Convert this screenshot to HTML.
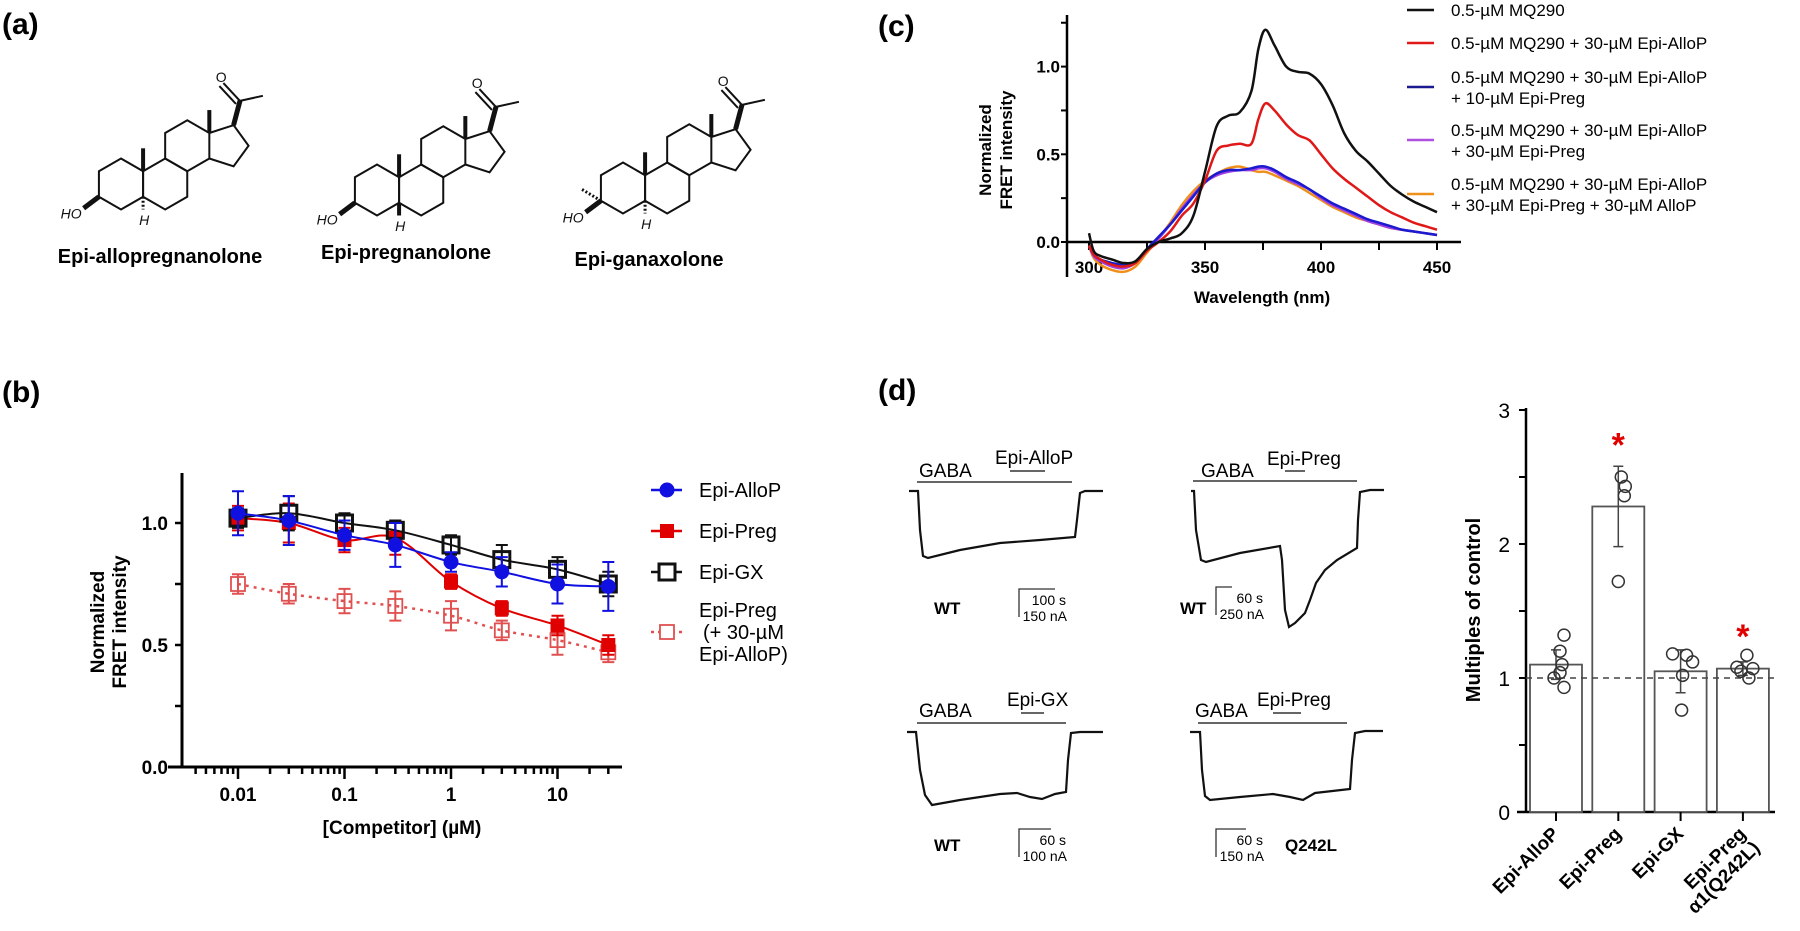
<!DOCTYPE html>
<html><head><meta charset="utf-8"><style>
body{margin:0;background:#fff;}
svg{display:block;font-family:"Liberation Sans",sans-serif;}
.lab{font-weight:bold;font-size:30px;}
</style></head><body>
<svg id="fig" width="1800" height="931" viewBox="0 0 1800 931" xmlns="http://www.w3.org/2000/svg">
<text class="lab" x="2" y="34">(a)</text>
<text class="lab" x="2" y="402">(b)</text>
<text class="lab" x="878" y="36">(c)</text>
<text class="lab" x="878" y="400">(d)</text>
<g id="pa"></g>
<g id="pb"></g>
<g id="pc"></g>
<g id="pd"></g>
<g id="pe"></g>
</svg>
<script>
// ---------- Panel b data ----------
const bConc = [0.01, 0.03, 0.1, 0.3, 1, 3, 10, 30];
const bAlloP = [1.04, 1.01, 0.95, 0.91, 0.84, 0.80, 0.75, 0.74];
const bAlloPErr = [0.09, 0.10, 0.06, 0.09, 0.04, 0.06, 0.08, 0.10];
const bPreg = [1.02, 1.00, 0.93, 0.94, 0.76, 0.65, 0.58, 0.50];
const bPregErr = [0.05, 0.08, 0.05, 0.07, 0.03, 0.03, 0.04, 0.04];
const bGX = [1.02, 1.04, 1.00, 0.97, 0.91, 0.85, 0.81, 0.75];
const bGXErr = [0.04, 0.07, 0.04, 0.04, 0.04, 0.06, 0.05, 0.05];
const bPregAlloP = [0.75, 0.71, 0.68, 0.66, 0.62, 0.56, 0.52, 0.47];
const bPregAlloPErr = [0.04, 0.04, 0.05, 0.06, 0.06, 0.04, 0.06, 0.04];
const bYTicks = [0.0, 0.5, 1.0];
const bXTicks = [0.01, 0.1, 1, 10];
const bXTickLabels = ["0.01", "0.1", "1", "10"];
// ---------- Panel c data ----------
const cWl = [300,302,305,310,315,320,325,330,335,340,345,350,355,360,365,370,373,376,380,385,390,395,400,405,410,415,420,425,430,435,440,445,450];
const cBlack = [0.05,-0.05,-0.08,-0.10,-0.12,-0.11,-0.04,0.0,0.02,0.05,0.15,0.40,0.66,0.72,0.74,0.86,1.10,1.21,1.12,1.00,0.97,0.96,0.90,0.78,0.62,0.52,0.46,0.39,0.32,0.27,0.23,0.20,0.17];
const cRed = [-0.02,-0.07,-0.10,-0.13,-0.14,-0.12,-0.05,0.0,0.06,0.15,0.22,0.35,0.52,0.55,0.56,0.56,0.70,0.79,0.75,0.67,0.61,0.58,0.50,0.42,0.36,0.31,0.26,0.21,0.17,0.14,0.11,0.09,0.07];
const cBlue = [-0.02,-0.07,-0.10,-0.12,-0.13,-0.11,-0.04,0.03,0.10,0.18,0.26,0.34,0.39,0.41,0.41,0.42,0.43,0.43,0.41,0.37,0.34,0.30,0.26,0.22,0.19,0.16,0.13,0.11,0.09,0.07,0.06,0.05,0.04];
const cPurple = [-0.02,-0.08,-0.11,-0.14,-0.15,-0.12,-0.05,0.02,0.10,0.19,0.27,0.34,0.38,0.40,0.41,0.41,0.42,0.42,0.40,0.36,0.33,0.30,0.25,0.21,0.18,0.15,0.12,0.10,0.08,0.07,0.06,0.05,0.04];
const cOrange = [-0.02,-0.09,-0.13,-0.16,-0.17,-0.14,-0.06,0.02,0.11,0.21,0.29,0.35,0.39,0.42,0.43,0.41,0.40,0.40,0.38,0.35,0.32,0.28,0.24,0.20,0.17,0.14,0.12,0.10,0.08,0.07,0.06,0.05,0.04];
const cYTicks = [0.0, 0.5, 1.0];
const cXTicks = [300, 350, 400, 450];
// ---------- Panel d bar data ----------
const dCats = ["Epi-AlloP", "Epi-Preg", "Epi-GX", "Epi-Preg|α1(Q242L)"];
const dMeans = [1.10, 2.28, 1.05, 1.07];
const dErr = [0.11, 0.30, 0.16, 0.05];
const dDots1 = [1.32, 1.20, 1.10, 1.04, 1.00, 0.93];
const dDots2 = [2.50, 2.43, 2.36, 1.72];
const dDots3 = [1.18, 1.17, 1.12, 1.02, 0.76];
const dDots4 = [1.17, 1.08, 1.07, 1.05, 1.00];
const dSig = [false, true, false, true];
const dYTicks = [0, 1, 2, 3];

const NS = "http://www.w3.org/2000/svg";
function mk(parent, tag, attrs, txt){
  const e = document.createElementNS(NS, tag);
  for (const k in attrs) e.setAttribute(k, attrs[k]);
  if (txt !== undefined) e.textContent = txt;
  parent.appendChild(e); return e;
}
function spline(pts){
  let d = "M" + pts[0][0] + "," + pts[0][1];
  for (let i = 0; i < pts.length - 1; i++){
    const p0 = pts[Math.max(0,i-1)], p1 = pts[i], p2 = pts[i+1], p3 = pts[Math.min(pts.length-1,i+2)];
    const c1x = p1[0] + (p2[0]-p0[0])/6, c1y = p1[1] + (p2[1]-p0[1])/6;
    const c2x = p2[0] - (p3[0]-p1[0])/6, c2y = p2[1] - (p3[1]-p1[1])/6;
    d += " C" + c1x + "," + c1y + " " + c2x + "," + c2y + " " + p2[0] + "," + p2[1];
  }
  return d;
}

// ---------- Panel a: structures ----------
(function(){
  const g = document.getElementById('pa');
  const L = 25.5, w = Math.sqrt(3)*L;
  function hex(cx, cy){ const v=[]; const a=[-90,-30,30,90,150,210]; a.forEach(t=>v.push([cx+L*Math.cos(t*Math.PI/180), cy+L*Math.sin(t*Math.PI/180)])); return v; }
  function mol(ox, oy, kind, idx){
    const m = mk(g,'g',{transform:'translate('+ox+','+oy+')',stroke:'#111','stroke-width':2,fill:'none'});
    
    
    const rings = [hex(0,0), hex(w,0), hex(1.5*w,-1.5*L)];
    rings.forEach(r=>mk(m,'polygon',{points:r.map(p=>p.join(',')).join(' ')}));
    const P1=[2*w,-2*L], R=L/(2*Math.sin(36*Math.PI/180)), cx=2*w+L/(2*Math.tan(36*Math.PI/180)), cy=-1.5*L;
    const pv=[216,288,0,72,144].map(t=>[cx+R*Math.cos(t*Math.PI/180), cy+R*Math.sin(t*Math.PI/180)]);
    mk(m,'polyline',{points:pv.map(p=>p.join(',')).join(' ')});
    mk(m,'line',{x1:w/2,y1:-L/2,x2:w/2,y2:-L/2-L*0.9,'stroke-width':4});
    mk(m,'line',{x1:P1[0],y1:P1[1],x2:P1[0],y2:P1[1]-L*0.9,'stroke-width':4});
    const C17=pv[1], C20=[C17[0]+L*0.25, C17[1]-L*0.95];
    mk(m,'line',{x1:C17[0],y1:C17[1],x2:C20[0],y2:C20[1],'stroke-width':5});
    mk(m,'line',{x1:C20[0],y1:C20[1],x2:C20[0]+L*0.9,y2:C20[1]-L*0.2});
    mk(m,'line',{x1:C20[0],y1:C20[1],x2:C20[0]-L*0.65,y2:C20[1]-L*0.7});
    mk(m,'line',{x1:C20[0]-4,y1:C20[1]+3,x2:C20[0]-L*0.65-4,y2:C20[1]-L*0.7+3});
    mk(m,'text',{x:C20[0]-L*0.95,y:C20[1]-L*0.75,stroke:'none',fill:'#111','font-size':14},'O');
    const C3=[-w/2,L/2];
    mk(m,'line',{x1:C3[0],y1:C3[1],x2:C3[0]-L*0.6,y2:C3[1]+L*0.45,'stroke-width':5});
    mk(m,'text',{x:C3[0]-L*1.5,y:C3[1]+L*0.85,stroke:'none',fill:'#111','font-size':14,'font-style':'italic'},'HO');
    if(kind==='gx'){ mk(m,'line',{x1:C3[0],y1:C3[1],x2:C3[0]-L*0.75,y2:C3[1]-L*0.45,'stroke-dasharray':'2,2','stroke-width':3}); }
    const C5=[w/2,L/2];
    if(kind==='beta') mk(m,'line',{x1:C5[0],y1:C5[1],x2:C5[0],y2:C5[1]+L*0.5,'stroke-width':4});
    else mk(m,'line',{x1:C5[0],y1:C5[1],x2:C5[0],y2:C5[1]+L*0.5,'stroke-dasharray':'2,2','stroke-width':3});
    mk(m,'text',{x:C5[0]-4,y:C5[1]+L*1.1,stroke:'none',fill:'#111','font-size':14,'font-style':'italic'},'H');
  }
  mol(121,184,'alpha',1); mol(377,190,'beta',2); mol(623,188,'gx',3);
  const names=[[160,263,'Epi-allopregnanolone'],[406,259,'Epi-pregnanolone'],[649,266,'Epi-ganaxolone']];
  names.forEach((n,i)=>{const t=mk(g,'text',{x:n[0],y:n[1],'text-anchor':'middle','font-weight':'bold','font-size':20},n[2]);
    
    });
})();

// ---------- Panel b ----------
(function(){
  const g = document.getElementById('pb');
  const x = c => 238 + (Math.log10(c) + 2) * 106.5;
  const y = v => 767 - v * 244;
  mk(g,'line',{x1:182,y1:473,x2:182,y2:768,stroke:'#000','stroke-width':3});
  mk(g,'line',{x1:168,y1:767,x2:622,y2:767,stroke:'#000','stroke-width':3});
  [0,0.25,0.5,0.75,1.0].forEach(v=>mk(g,'line',{x1:175,y1:y(v),x2:182,y2:y(v),stroke:'#000','stroke-width':2.5}));
  bYTicks.forEach(v=>{const t=mk(g,'text',{x:168,y:y(v)+7,'text-anchor':'end','font-weight':'bold','font-size':19},v.toFixed(1));
     });
  for(let d=-3; d<=1; d++) for(let k=1;k<=9;k++){const c=k*Math.pow(10,d); const px=x(c); if(px<185||px>620) continue;
    mk(g,'line',{x1:px,y1:767,x2:px,y2:767+(k===1?12:7),stroke:'#000','stroke-width':2.5});}
  bXTicks.forEach((c,i)=>{const t=mk(g,'text',{x:x(c),y:801,'text-anchor':'middle','font-weight':'bold','font-size':19},bXTickLabels[i]);
     });
  let t=mk(g,'text',{x:402,y:834,'text-anchor':'middle','font-weight':'bold','font-size':19},'[Competitor] (µM)');
   
  t=mk(g,'text',{transform:'translate(104,622) rotate(-90)','text-anchor':'middle','font-weight':'bold','font-size':19},'Normalized');
   
  t=mk(g,'text',{transform:'translate(126,622) rotate(-90)','text-anchor':'middle','font-weight':'bold','font-size':19},'FRET intensity');
   
  const series=[
    {v:bPregAlloP,e:bPregAlloPErr,col:'#e05050',m:'osq',dash:'3,5',name:'epi-preg-plus-allop'},
    {v:bPreg,e:bPregErr,col:'#e00000',m:'sq',dash:null,name:'epi-preg'},
    {v:bGX,e:bGXErr,col:'#111',m:'bsq',dash:null,name:'epi-gx'},
    {v:bAlloP,e:bAlloPErr,col:'#1010e0',m:'ci',dash:null,name:'epi-allop'}];
  series.forEach(s=>{
    const sg=mk(g,'g',{});
     
    const pts=bConc.map((c,i)=>[x(c),y(s.v[i])]);
    const p=mk(sg,'path',{d:spline(pts),fill:'none',stroke:s.col,'stroke-width':s.dash?2.5:2});
    if(s.dash) p.setAttribute('stroke-dasharray',s.dash);
    bConc.forEach((c,i)=>{
      const px=x(c), hi=y(s.v[i]+s.e[i]), lo=y(s.v[i]-s.e[i]);
      mk(sg,'path',{d:`M${px},${hi}V${lo}M${px-6},${hi}H${px+6}M${px-6},${lo}H${px+6}`,stroke:s.col,'stroke-width':2,fill:'none'});
      const py=y(s.v[i]); let mkr;
      if(s.m==='ci') mkr=mk(sg,'circle',{cx:px,cy:py,r:7.5,fill:s.col});
      else if(s.m==='sq') mkr=mk(sg,'rect',{x:px-7,y:py-7,width:14,height:14,fill:s.col});
      else if(s.m==='bsq') mkr=mk(sg,'rect',{x:px-8,y:py-8,width:16,height:16,fill:'none',stroke:s.col,'stroke-width':3});
      else mkr=mk(sg,'rect',{x:px-7,y:py-7,width:14,height:14,fill:'none',stroke:s.col,'stroke-width':1.8});
       
    });
  });
  const leg=[[490,'#1010e0','ci','Epi-AlloP'],[531,'#e00000','sq','Epi-Preg'],[572,'#111','bsq','Epi-GX'],[632,'#e05050','osq','']];
  leg.forEach((l,i)=>{
    const lg=mk(g,'g',{});  
    const ln=mk(lg,'line',{x1:651,y1:l[0],x2:682,y2:l[0],stroke:l[1],'stroke-width':2.5}); if(l[2]==='osq') ln.setAttribute('stroke-dasharray','3,4');
    const cx=667;
    if(l[2]==='ci') mk(lg,'circle',{cx:cx,cy:l[0],r:7.5,fill:l[1]});
    else if(l[2]==='sq') mk(lg,'rect',{x:cx-7,y:l[0]-7,width:14,height:14,fill:l[1]});
    else if(l[2]==='bsq') mk(lg,'rect',{x:cx-8,y:l[0]-8,width:16,height:16,fill:'#fff',stroke:l[1],'stroke-width':3});
    else mk(lg,'rect',{x:cx-7,y:l[0]-7,width:14,height:14,fill:'#fff',stroke:l[1],'stroke-width':1.8});
    if(l[3]) mk(lg,'text',{x:699,y:l[0]+7,'font-size':20},l[3]);
  });
  [[699,617,'Epi-Preg'],[703,639,'(+ 30-µM'],[699,661,'Epi-AlloP)']].forEach(a=>mk(g,'text',{x:a[0],y:a[1],'font-size':20},a[2]));
})();

// ---------- Panel c ----------
(function(){
  const g = document.getElementById('pc');
  const x = wl => 1089 + (wl-300) * 116/50;
  const y = v => 242 - v * 175.4;
  mk(g,'line',{x1:1067,y1:15,x2:1067,y2:277,stroke:'#000','stroke-width':2.5});
  mk(g,'line',{x1:1067,y1:242,x2:1461,y2:242,stroke:'#000','stroke-width':2.5});
  [0,0.25,0.5,0.75,1.0,1.25].forEach(v=>mk(g,'line',{x1:1061,y1:y(v),x2:1067,y2:y(v),stroke:'#000','stroke-width':2}));
  cYTicks.forEach(v=>{const t=mk(g,'text',{x:1060,y:y(v)+6,'text-anchor':'end','font-weight':'bold','font-size':17},v.toFixed(1));
     });
  [300,325,350,375,400,425,450].forEach(w=>mk(g,'line',{x1:x(w),y1:242,x2:x(w),y2:250,stroke:'#000','stroke-width':2}));
  cXTicks.forEach(w=>{const t=mk(g,'text',{x:x(w),y:273,'text-anchor':'middle','font-weight':'bold','font-size':17},String(w));
     });
  let t=mk(g,'text',{x:1262,y:303,'text-anchor':'middle','font-weight':'bold','font-size':17},'Wavelength (nm)');
   
  t=mk(g,'text',{transform:'translate(991,150) rotate(-90)','text-anchor':'middle','font-weight':'bold','font-size':17},'Normalized');
   
  t=mk(g,'text',{transform:'translate(1012,150) rotate(-90)','text-anchor':'middle','font-weight':'bold','font-size':17},'FRET intensity');
   
  const ser=[[cOrange,'#f0901c','orange'],[cPurple,'#a040e0','purple'],[cBlue,'#1a1ad0','blue'],[cRed,'#e01818','red'],[cBlack,'#111','black']];
  ser.forEach(s=>{const p=mk(g,'path',{d:spline(cWl.map((w,i)=>[x(w),y(s[0][i])])),fill:'none',stroke:s[1],'stroke-width':2.5});
     });
  const leg=[[10,'#111',['0.5-µM MQ290']],[43,'#e01818',['0.5-µM MQ290 + 30-µM Epi-AlloP']],[87,'#1a1a90',['0.5-µM MQ290 + 30-µM Epi-AlloP','+ 10-µM Epi-Preg']],[140,'#b050e0',['0.5-µM MQ290 + 30-µM Epi-AlloP','+ 30-µM Epi-Preg']],[194,'#f0901c',['0.5-µM MQ290 + 30-µM Epi-AlloP','+ 30-µM Epi-Preg + 30-µM AlloP']]];
  leg.forEach(l=>{
    const lg=mk(g,'g',{});  
    mk(lg,'line',{x1:1407,y1:l[0],x2:1434,y2:l[0],stroke:l[1],'stroke-width':2.5});
    const y0 = l[2].length===1 ? l[0]+6 : l[0]-4;
    l[2].forEach((s,j)=>mk(lg,'text',{x:1451,y:y0+j*21,'font-size':17},s));
  });
})();

// ---------- Panel d traces ----------
(function(){
  const g = document.getElementById('pd');
  const tr=[
    {pts:[[909,491],[918,491],[920,530],[923,556],[928,558],[960,550],[1000,543],[1040,540],[1075,537],[1077,520],[1080,493],[1085,491],[1103,491]],gaba:[919,470,917,1072,482],drug:['Epi-AlloP',995,457,1010,1045,471],name:'trace-wt-epi-allop'},
    {pts:[[1191,491],[1194,491],[1196,530],[1201,560],[1206,562],[1240,553],[1280,546],[1282,560],[1285,610],[1289,627],[1295,623],[1305,613],[1310,600],[1316,583],[1325,570],[1337,560],[1357,548],[1358,520],[1360,492],[1370,490],[1384,490]],gaba:[1201,470,1193,1357,481],drug:['Epi-Preg',1267,458,1285,1305,471],name:'trace-wt-epi-preg'},
    {pts:[[907,732],[916,732],[920,770],[925,795],[932,805],[960,800],[1000,794],[1017,793],[1030,797],[1042,799],[1055,794],[1066,792],[1068,760],[1071,733],[1080,732],[1103,732]],gaba:[919,710,917,1066,723],drug:['Epi-GX',1007,699,1021,1044,713],name:'trace-wt-epi-gx'},
    {pts:[[1190,732],[1200,732],[1202,770],[1205,796],[1210,800],[1240,797],[1273,794],[1290,797],[1303,800],[1315,793],[1350,789],[1352,760],[1355,733],[1365,731],[1383,731]],gaba:[1195,710,1198,1347,723],drug:['Epi-Preg',1257,699,1273,1301,713],name:'trace-q242l-epi-preg'}];
  tr.forEach(t=>{
    const tg=mk(g,'g',{});  
    mk(tg,'polyline',{points:t.pts.map(p=>p.join(',')).join(' '),fill:'none',stroke:'#111','stroke-width':2.2});
    mk(tg,'text',{x:t.gaba[0],y:t.gaba[1]+7,'font-size':19},'GABA');
    mk(tg,'line',{x1:t.gaba[2],y1:t.gaba[4],x2:t.gaba[3],y2:t.gaba[4],stroke:'#333','stroke-width':1.5});
    mk(tg,'text',{x:t.drug[1],y:t.drug[2]+7,'font-size':19},t.drug[0]);
    mk(tg,'line',{x1:t.drug[3],y1:t.drug[5],x2:t.drug[4],y2:t.drug[5],stroke:'#333','stroke-width':1.5});
  });
  const sb=[[1019,589,1055,'100 s','150 nA'],[1216,587,1232,'60 s','250 nA'],[1019,829,1051,'60 s','100 nA'],[1216,829,1246,'60 s','150 nA']];
  sb.forEach(s=>{
    const sg=mk(g,'g',{});  
    mk(sg,'path',{d:`M${s[0]},${s[1]+28}V${s[1]}H${s[2]}`,fill:'none',stroke:'#333','stroke-width':1.3});
    mk(sg,'text',{x:s[0]+47,y:s[1]+16,'text-anchor':'end','font-size':14},s[3]);
    mk(sg,'text',{x:s[0]+48,y:s[1]+32,'text-anchor':'end','font-size':14},s[4]);
  });
  [[934,614,'WT'],[1180,614,'WT'],[934,851,'WT'],[1285,851,'Q242L']].forEach(a=>{const t=mk(g,'text',{x:a[0],y:a[1],'font-weight':'bold','font-size':17},a[2]);
     });
})();

// ---------- Panel d bar chart ----------
(function(){
  const g = document.getElementById('pe');
  const y = v => 812 - v * 134;
  const xc = i => 1556 + i * 62.3;
  mk(g,'line',{x1:1526,y1:408,x2:1526,y2:813,stroke:'#000','stroke-width':2.5});
  mk(g,'line',{x1:1517,y1:812,x2:1775,y2:812,stroke:'#000','stroke-width':2.5});
  [0,0.5,1,1.5,2,2.5,3].forEach(v=>mk(g,'line',{x1:1519,y1:y(v),x2:1526,y2:y(v),stroke:'#000','stroke-width':2}));
  dYTicks.forEach(v=>{const t=mk(g,'text',{x:1510,y:y(v)+8,'text-anchor':'end','font-size':21},String(v));
     });
  let t=mk(g,'text',{transform:'translate(1480,610) rotate(-90)','text-anchor':'middle','font-weight':'bold','font-size':20},'Multiples of control');
   
  const dots=[dDots1,dDots2,dDots3,dDots4];
  const offs=[[8,4,6,4,-2,8],[3,7,6,0],[-8,6,12,2,1],[4,-6,10,-2,6]];
  dMeans.forEach((m,i)=>{
    const cx=xc(i);
    const b=mk(g,'rect',{x:cx-26,y:y(m),width:52,height:y(0)-y(m),fill:'#fff',stroke:'#555','stroke-width':1.8});
     
    mk(g,'line',{x1:cx,y1:y(0),x2:cx,y2:y(0)+9,stroke:'#000','stroke-width':2});
  });
  const dl=mk(g,'line',{x1:1526,y1:y(1),x2:1775,y2:y(1),stroke:'#444','stroke-width':1.5,'stroke-dasharray':'6,5'});
   
  dMeans.forEach((m,i)=>{
    const cx=xc(i);
    mk(g,'path',{d:`M${cx},${y(m+dErr[i])}V${y(m-dErr[i])}M${cx-5},${y(m+dErr[i])}H${cx+5}M${cx-5},${y(m-dErr[i])}H${cx+5}`,stroke:'#444','stroke-width':1.5,fill:'none'});
    dots[i].forEach((v,j)=>{const c=mk(g,'circle',{cx:cx+offs[i][j],cy:y(v),r:6,fill:'none',stroke:'#333','stroke-width':1.5});
       });
    if(dSig[i]){const s=mk(g,'text',{x:cx,y:y(m+dErr[i])-(i===1?10:14),'text-anchor':'middle','font-size':34,fill:'#e00000','font-weight':'bold'},'*');
       }
    const parts=dCats[i].split('|');
    parts.forEach((p,k)=>{const tl=mk(g,'text',{transform:`translate(${cx+4+k*14},${835+k*14}) rotate(-45)`,'text-anchor':'end','font-weight':'bold','font-size':19},p);
       });
  });
})();
</script>
</body></html>
